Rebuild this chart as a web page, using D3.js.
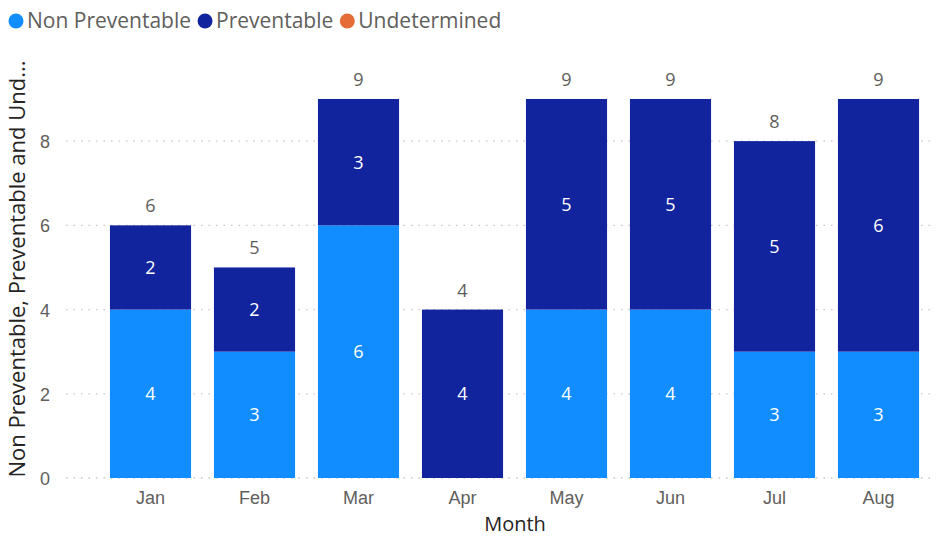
<!DOCTYPE html>
<html>
<head>
<meta charset="utf-8">
<script src="https://cdn.jsdelivr.net/npm/d3@7"></script>
<style>
  body { margin: 0; background: #fff; }
  svg { display: block; font-family: "Segoe UI", "Open Sans", sans-serif; }
</style>
</head>
<body>
<svg id="chart" width="948" height="539"></svg>
<script>
// Monthly incident counts by classification
const months = ["Jan", "Feb", "Mar", "Apr", "May", "Jun", "Jul", "Aug"];
const nonPreventable = [4, 3, 6, 0, 4, 4, 3, 3];
const preventable = [2, 2, 3, 4, 5, 5, 5, 6];
const undetermined = [0, 0, 0, 0, 0, 0, 0, 0];
const seriesNames = ["Non Preventable", "Preventable", "Undetermined"];
const seriesColors = ["#118DFF", "#12239E", "#E66C37"];
const yTicks = [0, 2, 4, 6, 8];

const rows = months.map((m, i) => ({
  month: m,
  "Non Preventable": nonPreventable[i],
  "Preventable": preventable[i],
  "Undetermined": undetermined[i]
}));
const total = d => d["Non Preventable"] + d["Preventable"] + d["Undetermined"];

const svg = d3.select("#chart");
const plot = { left: 98.5, right: 930.5, top: 99, bottom: 478 };

const x = d3.scaleBand().domain(months).range([plot.left, plot.right])
  .paddingInner(0.22).paddingOuter(0.11);
const y = d3.scaleLinear().domain([0, 9]).range([plot.bottom, plot.top]);
const color = d3.scaleOrdinal().domain(seriesNames).range(seriesColors);

// Tick labels on the value axis
const yAxis = d3.axisLeft(y).tickValues(yTicks).tickSize(0).tickPadding(0);
const gy = svg.append("g").attr("transform", "translate(52,0)").call(yAxis);
gy.select(".domain").remove();
gy.selectAll("text").attr("fill", "#605E5C").attr("font-size", 18)
  .attr("text-anchor", "middle").attr("x", -7).attr("dy", "0.36em");

// Dotted gridlines
svg.append("g").selectAll("line").data(yTicks).join("line")
  .attr("x1", 66).attr("x2", plot.right)
  .attr("y1", d => y(d)).attr("y2", d => y(d))
  .attr("stroke", "#C8C6C4").attr("stroke-width", 1.3)
  .attr("stroke-dasharray", "1.5,6");

// Stacked bars
const stacked = d3.stack().keys(seriesNames)(rows);
const layers = svg.append("g").selectAll("g").data(stacked).join("g")
  .attr("fill", d => color(d.key));
layers.selectAll("rect").data(d => d).join("rect")
  .attr("x", d => x(d.data.month))
  .attr("width", x.bandwidth())
  .attr("y", d => y(d[1]))
  .attr("height", d => y(d[0]) - y(d[1]));

// Segment value labels
layers.each(function(layer) {
  d3.select(this).selectAll("text").data(layer.filter(d => d[1] - d[0] > 0)).join("text")
    .attr("x", d => x(d.data.month) + x.bandwidth() / 2)
    .attr("y", d => (y(d[0]) + y(d[1])) / 2)
    .attr("dy", "0.36em")
    .attr("text-anchor", "middle")
    .attr("fill", "#FFFFFF")
    .attr("font-size", 18)
    .text(d => d[1] - d[0]);
});

// Totals above each bar
svg.append("g").selectAll("text").data(rows).join("text")
  .attr("x", d => x(d.month) + x.bandwidth() / 2)
  .attr("y", d => y(total(d)) - 13)
  .attr("text-anchor", "middle")
  .attr("fill", "#605E5C")
  .attr("font-size", 18)
  .text(d => total(d));

// Category labels
const xAxis = d3.axisBottom(x).tickSize(0).tickPadding(0);
const gx = svg.append("g").attr("transform", `translate(0,${plot.bottom})`).call(xAxis);
gx.select(".domain").remove();
gx.selectAll("text").attr("fill", "#605E5C").attr("font-size", 18).attr("dy", "0").attr("y", 26);

// Axis titles
svg.append("text")
  .attr("x", 515).attr("y", 531)
  .attr("text-anchor", "middle")
  .attr("fill", "#252423").attr("font-size", 20)
  .text("Month");

svg.append("text")
  .attr("transform", "translate(25,269) rotate(-90)")
  .attr("text-anchor", "middle")
  .attr("fill", "#252423").attr("font-size", 22)
  .text("Non Preventable, Preventable and Und...");

// Legend
const legend = svg.append("g").attr("transform", "translate(0,21)");
let lx = 16;
seriesNames.forEach((name, i) => {
  legend.append("circle").attr("cx", lx).attr("cy", 0).attr("r", 7.5).attr("fill", seriesColors[i]);
  const t = legend.append("text").attr("x", lx + 11).attr("y", 0).attr("dy", "0.35em")
    .attr("fill", "#605E5C").attr("font-size", 21).text(name);
  lx += 11 + t.node().getComputedTextLength() + 14;
});
</script>
</body>
</html>
